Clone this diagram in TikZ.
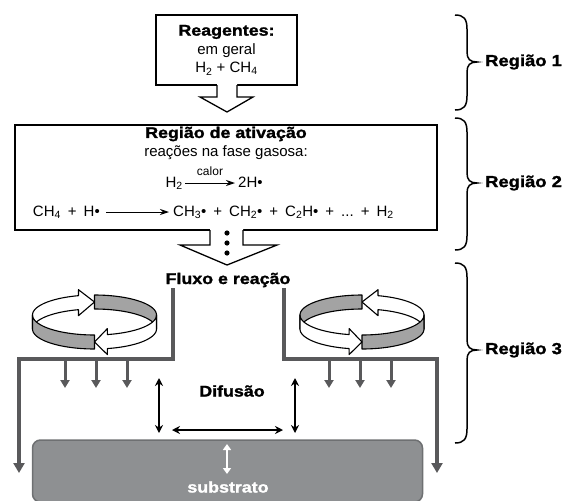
\documentclass[tikz,border=0pt]{standalone}
\usepackage{fontspec}
\setmainfont{Liberation Sans}
\newfontfamily\heavy{Liberation Sans}[FakeStretch=1.15,FakeBold=1.5]
\newcommand\hv{\heavy\bfseries\fontsize{15.5}{18}\selectfont}
\newcommand\gap{\hspace{7pt}}
\usetikzlibrary{arrows.meta}
\definecolor{wallgray}{HTML}{59595B}
\definecolor{ribgray}{HTML}{A3A3A3}
\definecolor{subgray}{HTML}{8E9092}
\definecolor{subedge}{HTML}{6E7072}
\tikzset{
  txt/.style={font=\fontsize{15}{18.5}\selectfont, inner sep=0pt},
  box/.style={draw=black, line width=1.3pt, fill=white, inner sep=0pt},
  blockarrow/.style={draw=black, line width=1.3pt, line join=miter},
  carr/.style={line width=1pt, -{Stealth[length=9pt,width=6pt]}},
  wall/.style={draw=wallgray, line width=3.5pt},
  bigtip/.style={-{Triangle[width=11pt,length=10pt]}},
  smalltip/.style={-{Triangle[width=9pt,length=8pt]}},
  darr/.style={line width=1.4pt, {Stealth[length=8pt,width=8pt]}-{Stealth[length=8pt,width=8pt]}},
  rib/.style={draw=black, line width=1.1pt, line join=round},
  brc/.style={line width=1.5pt},
  swirl/.pic={
    \path[rib, fill=white] plot[domain=180:105,samples=30,variable=\t] ({62*cos(\t)},{-20*sin(\t)}) -- ++(0,-6) -- (0,-13) -- ({62*cos(105)},{-20*sin(105)+20}) -- ++(0,-6) -- plot[domain=105:180,samples=30,variable=\t] ({62*cos(\t)},{-20*sin(\t)+14}) -- cycle;
    \path[rib, fill=ribgray] plot[domain=90:0,samples=30,variable=\t] ({62*cos(\t)},{-20*sin(\t)}) -- plot[domain=0:90,samples=30,variable=\t] ({62*cos(\t)},{-20*sin(\t)+14}) -- cycle;
    \path[rib, fill=ribgray] plot[domain=180:270,samples=30,variable=\t] ({62*cos(\t)},{-20*sin(\t)}) -- plot[domain=270:180,samples=30,variable=\t] ({62*cos(\t)},{-20*sin(\t)+14}) -- cycle;
    \path[rib, fill=white] plot[domain=360:282,samples=30,variable=\t] ({62*cos(\t)},{-20*sin(\t)}) -- ++(0,-6) -- (0,27) -- ({62*cos(282)},{-20*sin(282)+20}) -- ++(0,-6) -- plot[domain=282:360,samples=30,variable=\t] ({62*cos(\t)},{-20*sin(\t)+14}) -- cycle;
  }
}
\newcommand\regbrace[3]{\draw[brc] (455,#1) .. controls (464,#1) and (467,{#1+4}) .. (467,{#1+14}) -- (467,{#3-10}) .. controls (467,{#3-3}) and (470,#3) .. (477,#3) .. controls (470,#3) and (467,{#3+3}) .. (467,{#3+10}) -- (467,{#2-14}) .. controls (467,{#2-4}) and (464,#2) .. (455,#2);}
\begin{document}
\begin{tikzpicture}[x=1pt,y=-1pt]
\useasboundingbox (0,0) rectangle (571,501);
% Region 1
\node[box, txt, minimum width=141pt, minimum height=70pt, align=center] (reag) at (226.5,50) {{\hv Reagentes:}\\em geral\\H\textsubscript{2} + CH\textsubscript{4}};
\fill[white] (217,83) -- (217,97) -- (200,97) -- (227,112) -- (253,97) -- (237,97) -- (237,83) -- cycle;
\draw[blockarrow] (217,85) -- (217,97) -- (200,97) -- (227,112) -- (253,97) -- (237,97) -- (237,85);
% Region 2
\node[box, minimum width=422pt, minimum height=105pt] (act) at (226,177.5) {};
\node[txt, font=\hv] (t1) at (226,134) {Região de ativação};
\node[txt] (t2) at (226,153) {reações na fase gasosa:};
\node[txt, anchor=base east] (h2) at (183,187) {H\textsubscript{2}};
\node[txt, anchor=base west] (hh) at (238,187) {2H•};
\draw[carr] ([xshift=2pt,yshift=4pt]h2.base east) -- ([xshift=-3pt,yshift=4pt]hh.base west);
\node[txt, font=\fontsize{12}{14}\selectfont] (calor) at (210,171) {calor};
\node[txt, anchor=base east] (lhs) at (100,216) {CH\textsubscript{4}\gap+\gap H•};
\node[txt, anchor=base west] (rhs) at (173,216) {CH\textsubscript{3}•\gap+\gap CH\textsubscript{2}•\gap+\gap C\textsubscript{2}H•\gap+\gap ...\gap+\gap H\textsubscript{2}};
\draw[carr] ([xshift=6pt,yshift=4pt]lhs.base east) -- ([xshift=-4pt,yshift=4pt]rhs.base west);
\fill[white] (210,228) -- (210,245) -- (180,245) -- (227,265) -- (277,245) -- (243,245) -- (243,228) -- cycle;
\draw[blockarrow] (210,230) -- (210,245) -- (180,245) -- (227,265) -- (277,245) -- (243,245) -- (243,230);
\fill (227,233) circle (2.6);
\fill (227,243) circle (2.6);
\fill (227,253) circle (2.6);
% Region 3
\node[txt, font=\hv] (fluxo) at (228,280) {Fluxo e reação};
\pic at (94.5,315) {swirl};
\pic[xscale=-1] at (362,315) {swirl};
\coordinate (lw0) at (173,288); \coordinate (lw1) at (173,359);
\coordinate (lw2) at (19,359); \coordinate (lw3) at (19,473);
\coordinate (rw0) at (284,288); \coordinate (rw1) at (284,359);
\coordinate (rw2) at (437,359); \coordinate (rw3) at (437,473);
\draw[wall,bigtip] (lw0) -- (lw1) -- (lw2) -- (lw3);
\draw[wall,bigtip] (rw0) -- (rw1) -- (rw2) -- (rw3);
\foreach \x in {65,96,127,329,360,391}
  \draw[wall,smalltip,line width=3pt] (\x,359) -- (\x,388);
\node[txt, font=\hv] (dif) at (232,391) {Difusão};
\draw[darr] (159,378) -- (159,433);
\draw[darr] (295,378) -- (295,433);
\draw[darr] (172,430) -- (283,430);
\node[draw=subedge, fill=subgray, line width=1.5pt, rounded corners=8pt, minimum width=390pt, minimum height=62pt, inner sep=0pt] (sub) at (227.5,471) {};
\draw[white, line width=2pt, {Triangle[width=8pt,length=6pt]}-{Triangle[width=8pt,length=6pt]}] (227,444) -- (227,474);
\node[txt, font=\hv, text=white] (substr) at (228,487) {substrato};
% braces and labels
\regbrace{15}{110}{62}
\regbrace{118}{250}{183}
\regbrace{263}{443}{350}
\node[txt, anchor=west, font={\hv\fontsize{16}{19}\selectfont}] (r1) at (485,62) {Região 1};
\node[txt, anchor=west, font={\hv\fontsize{16}{19}\selectfont}] (r2) at (485,183) {Região 2};
\node[txt, anchor=west, font={\hv\fontsize{16}{19}\selectfont}] (r3) at (485,350) {Região 3};
\end{tikzpicture}
\end{document}
